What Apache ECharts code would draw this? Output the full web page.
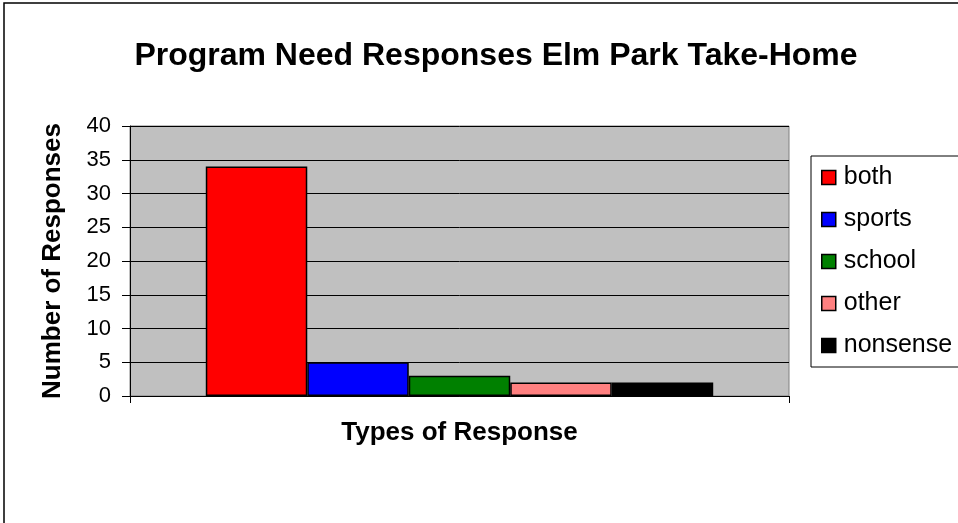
<!DOCTYPE html>
<html>
<head>
<meta charset="utf-8">
<script src="https://cdn.jsdelivr.net/npm/echarts@6/dist/echarts.min.js"></script>
<style>
  html, body { margin: 0; padding: 0; background: #fff; }
  #chart { width: 958px; height: 523px; }
</style>
</head>
<body>
<div id="chart"></div>
<script>
const responseTypes = ['both', 'sports', 'school', 'other', 'nonsense']
const responseCounts = [34, 5, 3, 2, 2]
const responseColors = ['#FF0000', '#0000FF', '#008000', '#FF8080', '#000000']
const xCategories = ['']
const yTicks = { min: 0, max: 40, interval: 5 }

const font = 'Liberation Sans, Arial, sans-serif'
const chart = echarts.init(document.getElementById('chart'))

// one series per response type so each gets its own legend entry
const series = responseTypes.map((name, i) => ({
  name: name,
  type: 'bar',
  data: [responseCounts[i]],
  barGap: '0%',
  barCategoryGap: '23%',
  itemStyle: { color: responseColors[i], borderColor: '#000', borderWidth: 1.5 },
  emphasis: { disabled: true }
}))

const option = {
  animation: false,
  backgroundColor: '#fff',
  title: {
    text: 'Program Need Responses Elm Park Take-Home',
    left: 491,
    top: 35,
    textAlign: 'center',
    textStyle: { fontFamily: font, fontSize: 32, fontWeight: 'bold', color: '#000' }
  },
  graphic: [{
    type: 'rect',
    shape: { x: 4, y: 3, width: 1000, height: 1000 },
    style: { fill: 'none', stroke: '#000', lineWidth: 1.5 },
    silent: true
  }],
  legend: {
    orient: 'vertical',
    left: 811,
    top: 156,
    data: responseTypes,
    icon: 'rect',
    itemWidth: 14,
    itemHeight: 14,
    itemGap: 17,
    padding: [9, 40, 9, 10],
    borderColor: '#000',
    borderWidth: 1,
    itemStyle: { borderColor: '#000', borderWidth: 1.5 },
    textStyle: { fontFamily: font, fontSize: 25, color: '#000', padding: [0, 0, 0, 3] }
  },
  grid: {
    left: 130,
    top: 126,
    right: 169,
    bottom: 127,
    show: true,
    backgroundColor: '#C0C0C0',
    borderColor: '#808080',
    borderWidth: 1
  },
  xAxis: {
    type: 'category',
    data: xCategories,
    name: 'Types of Response',
    nameLocation: 'middle',
    nameGap: 24,
    nameTextStyle: { fontFamily: font, fontSize: 26, fontWeight: 'bold', color: '#000' },
    axisLine: { lineStyle: { color: '#000', width: 1 } },
    axisTick: { show: true, length: 7, lineStyle: { color: '#000' } },
    axisLabel: { show: false }
  },
  yAxis: {
    type: 'value',
    min: yTicks.min,
    max: yTicks.max,
    interval: yTicks.interval,
    name: 'Number of Responses',
    nameLocation: 'middle',
    nameGap: 64,
    nameTextStyle: { fontFamily: font, fontSize: 26, fontWeight: 'bold', color: '#000' },
    axisLine: { show: true, lineStyle: { color: '#000', width: 1 } },
    axisTick: { show: true, length: 8, lineStyle: { color: '#000' } },
    axisLabel: { fontFamily: font, fontSize: 22, color: '#000', margin: 19 },
    splitLine: { show: true, lineStyle: { color: '#000', width: 1 } }
  },
  series: series
}

chart.setOption(option)

window.addEventListener('resize', () => {
  chart.resize()
})
</script>
</body>
</html>
